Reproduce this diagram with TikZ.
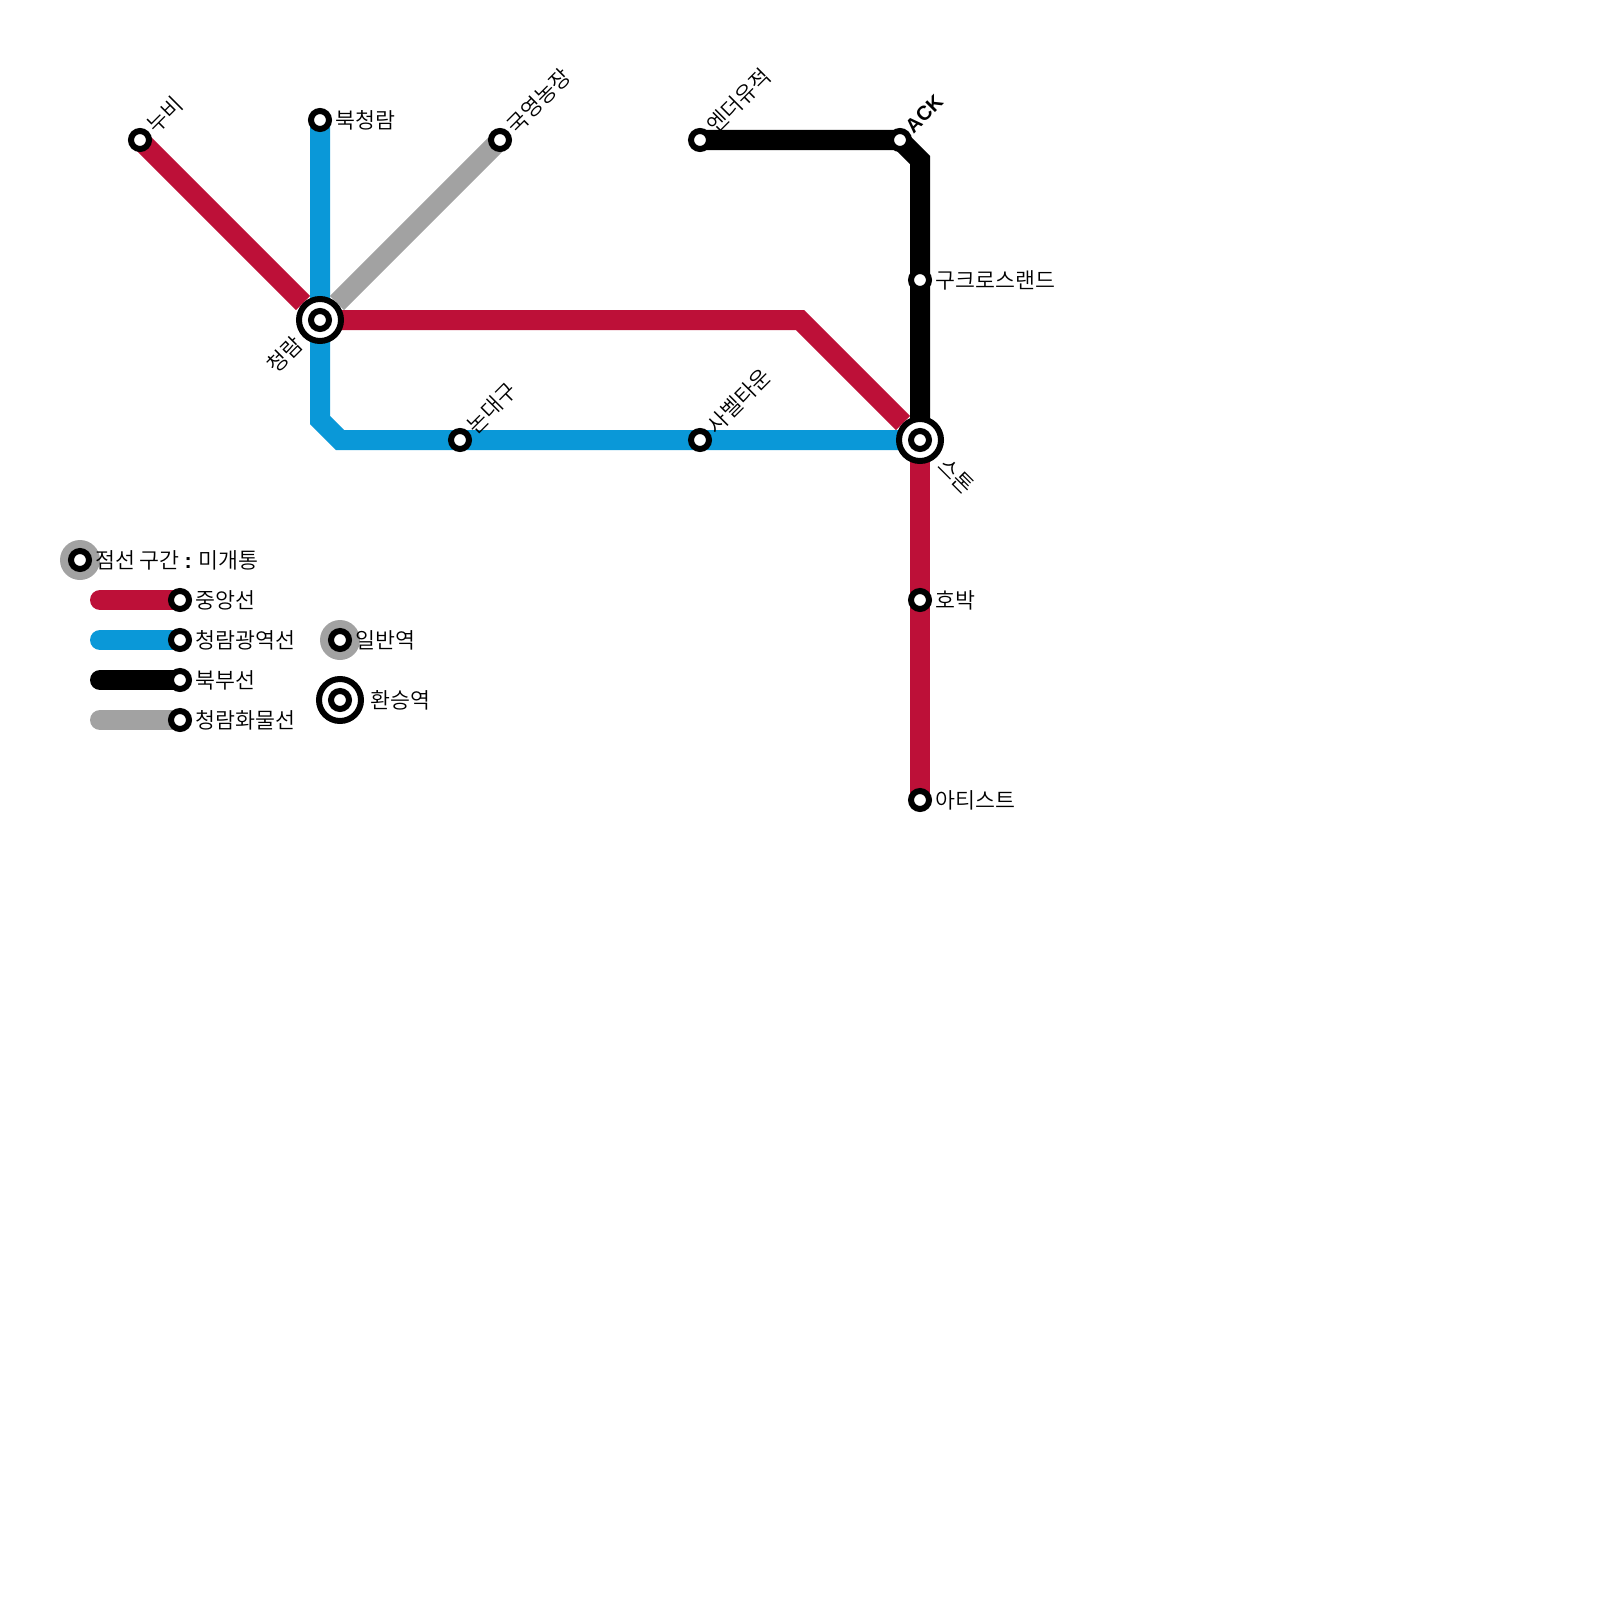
\documentclass[tikz,border=0pt]{standalone}
\usepackage{fontspec}
\setmainfont{Noto Sans CJK KR DemiLight}
\newfontfamily\latfont{Liberation Sans}
\usetikzlibrary{calc}
\pgfdeclarelayer{lines}
\pgfsetlayers{lines,main}
\definecolor{linered}{HTML}{BD1038}
\definecolor{lineblue}{HTML}{0A98D8}
\definecolor{linegrey}{HTML}{A2A2A2}
\tikzset{
  x=1pt,y=-1pt,
  stn/.style={circle,draw=black,fill=white,line width=6pt,minimum size=18pt,inner sep=0pt,outer sep=0pt},
  hubout/.style={circle,draw=black,fill=white,line width=6pt,minimum size=42pt,inner sep=0pt,outer sep=0pt},
  halo/.style={circle,fill=linegrey,minimum size=40pt,inner sep=0pt,outer sep=0pt},
  lbl/.style={font=\fontsize{21.7pt}{24pt}\selectfont,inner sep=0pt,text=black},
  lblE/.style={lbl,anchor=west},
  lblNE/.style={lbl,anchor=west,rotate=45},
  lblSE/.style={lbl,anchor=west,rotate=-45},
  lblSW/.style={lbl,anchor=east,rotate=45},
  metro/.style={line width=20pt,line cap=butt,line join=miter},
  swatch/.style={line width=20pt,line cap=round},
  tohub/.style={shorten >=24pt},
}
\begin{document}
\begin{tikzpicture}
\useasboundingbox (0,0) rectangle (1600,1600);
% stations
\node[stn] (nubi) at (140,140) {};
\node[stn] (bukcr) at (320,120) {};
\node[stn] (farm) at (500,140) {};
\node[hubout] (cr) at (320,320) {};
\node[stn] (crin) at (320,320) {};
\node[stn] (nondae) at (460,440) {};
\node[stn] (savel) at (700,440) {};
\node[stn] (ender) at (700,140) {};
\node[stn] (ack) at (900,140) {};
\node[stn] (guk) at (920,280) {};
\node[hubout] (stone) at (920,440) {};
\node[stn] (stonein) at (920,440) {};
\node[stn] (hobak) at (920,600) {};
\node[stn] (artist) at (920,800) {};
\coordinate (redbend) at (800,320);
\coordinate (bluea) at (320,420);
\coordinate (blueb) at (340,440);
\coordinate (blacka) at (920,160);
% legend
\node[halo] (h1) at (80,560) {};
\node[stn] (l0) at (80,560) {};
\node[stn] (l1) at (180,600) {};
\node[stn] (l2) at (180,640) {};
\node[stn] (l3) at (180,680) {};
\node[stn] (l4) at (180,720) {};
\coordinate (s1) at (100,600);
\coordinate (s2) at (100,640);
\coordinate (s3) at (100,680);
\coordinate (s4) at (100,720);
\node[halo] (h2) at (340,640) {};
\node[stn] (l5) at (340,640) {};
\node[hubout] (l6) at (340,700) {};
\node[stn] (l6in) at (340,700) {};
\begin{pgfonlayer}{lines}
\draw[metro,lineblue] (bukcr.center) -- (cr.center) -- (bluea) -- (blueb) -- (stone.center);
\draw[metro,black] (ender.center) -- (ack.center) -- (blacka) -- (guk.center) -- (stone.center);
\draw[metro,linegrey,tohub] (farm.center) -- (cr.center);
\draw[metro,linered,tohub] (nubi.center) -- (cr.center);
\draw[metro,linered,tohub] (cr.center) -- (redbend) -- (stone.center);
\draw[metro,linered] (stone.center) -- (hobak.center) -- (artist.center);
\draw[swatch,linered] (s1) -- (l1.center);
\draw[swatch,lineblue] (s2) -- (l2.center);
\draw[swatch,black] (s3) -- (l3.center);
\draw[swatch,linegrey] (s4) -- (l4.center);
\end{pgfonlayer}
% labels
\node[lblNE] (tnubi) at ($(nubi)+(10.6,-10.6)$) {누비};
\node[lblE] (tbuk) at (335,120) {북청람};
\node[lblNE] (tfarm) at ($(farm)+(10.6,-10.6)$) {국영농장};
\node[lblNE] (tender) at ($(ender)+(10.6,-10.6)$) {엔더유적};
\node[lblNE,font=\latfont\bfseries\fontsize{20pt}{24pt}\selectfont] (tack) at ($(ack)+(8.6,-10.6)$) {ACK};
\node[lblE] (tguk) at (935,280) {구크로스랜드};
\node[lblSW] (tcr) at ($(cr)+(-21,20)$) {청람};
\node[lblNE] (tnon) at ($(nondae)+(10.6,-10.6)$) {논대구};
\node[lblNE] (tsav) at ($(savel)+(10.6,-10.6)$) {사벨타운};
\node[lblSE] (tstone) at ($(stone)+(22,22)$) {스톤};
\node[lblE] (thob) at (935,600) {호박};
\node[lblE] (tart) at (935,800) {아티스트};
\node[lblE] (t0) at (95,560) {점선 구간 {\latfont\bfseries :} 미개통};
\node[lblE] (t1) at (195,600) {중앙선};
\node[lblE] (t2) at (195,640) {청람광역선};
\node[lblE] (t3) at (195,680) {북부선};
\node[lblE] (t4) at (195,720) {청람화물선};
\node[lblE] (t5) at (355,640) {일반역};
\node[lblE] (t6) at (370,700) {환승역};
\end{tikzpicture}
\end{document}
